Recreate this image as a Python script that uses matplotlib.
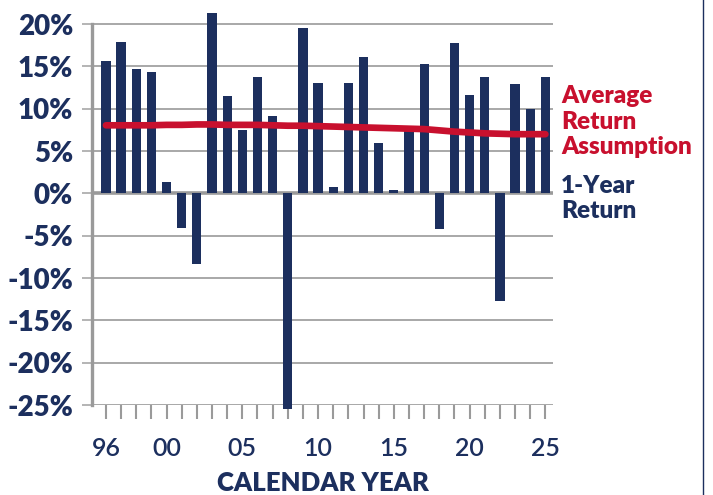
import matplotlib.pyplot as plt
import matplotlib.lines as mlines

navy = '#1c2f5e'
red = '#c8102e'
grey = '#9a9a9a'

years = list(range(1996, 2026))
returns = [15.7, 17.9, 14.7, 14.4, 1.4, -4.1, -8.3, 21.3, 11.5, 7.5,
           13.8, 9.1, -25.5, 19.5, 13.0, 0.8, 13.0, 16.1, 5.9, 0.4,
           7.4, 15.3, -4.2, 17.8, 11.6, 13.7, -12.7, 12.9, 10.0, 13.7]
avg_assumption = [8.05, 8.05, 8.05, 8.05, 8.1, 8.1, 8.15, 8.15, 8.1, 8.1,
                  8.1, 8.05, 8.0, 8.0, 7.95, 7.9, 7.85, 7.8, 7.75, 7.7,
                  7.65, 7.6, 7.45, 7.3, 7.2, 7.1, 7.05, 7.0, 7.0, 7.0]
yticks = [20, 15, 10, 5, 0, -5, -10, -15, -20, -25]
xlabels = {1996: '96', 2000: '00', 2005: '05', 2010: '10', 2015: '15', 2020: '20', 2025: '25'}

plt.rcParams['font.family'] = ['Lato', 'DejaVu Sans']

W, H = 713, 495
fig = plt.figure(figsize=(W / 100, H / 100), dpi=100)
ax = fig.add_axes([92 / W, 1 - 405 / H, (553 - 92) / W, (405 - 3) / H])

ax.set_ylim(-25, 22.5)
ax.set_xlim(1995.08, 2025.5)

bars = ax.bar(years, returns, width=0.61, color=navy, zorder=3)
for b in bars:
    b.set_clip_on(False)
ax.plot(years, avg_assumption, color=red, lw=4.8, solid_capstyle='round', zorder=4)

for v in yticks:
    if v == 0:
        ax.axhline(0, color=grey, lw=2.6, zorder=2)
    else:
        ax.axhline(v, color='#a8a8a8', lw=1.4, zorder=1)

for s in ['top', 'right', 'bottom']:
    ax.spines[s].set_visible(False)
ax.spines['left'].set_color(grey)
ax.spines['left'].set_linewidth(2.4)
ax.spines['left'].set_bounds(-25, 20)

ax.set_yticks(yticks)
ax.set_yticklabels([f'{v}%' for v in yticks], fontsize=20, fontweight='heavy', color=navy)
ax.tick_params(axis='y', length=7.5, width=1.2, color='#a8a8a8', pad=6)

ax.set_xticks(years)
ax.set_xticklabels([xlabels.get(y, '') for y in years], fontsize=18, fontweight='semibold', color=navy)
ax.tick_params(axis='x', length=10, width=1.5, color=grey, pad=13)

ax.set_xlabel('CALENDAR YEAR', fontsize=18.5, fontweight='heavy', color=navy, labelpad=8)

# legend text, one line at a time
for txt, base in [('Average', 103), ('Return', 129), ('Assumption', 154)]:
    fig.text(561 / W, 1 - base / H, txt, color=red, fontsize=17.5,
             fontweight='heavy', va='baseline', ha='left')
for txt, base in [('1-Year', 193), ('Return', 218)]:
    fig.text(561 / W, 1 - base / H, txt, color=navy, fontsize=17.5,
             fontweight='heavy', va='baseline', ha='left')

fig.add_artist(mlines.Line2D([703 / W, 703 / W], [0, 1], color=navy, lw=1, transform=fig.transFigure))

fig.savefig('out.png', dpi=100)
